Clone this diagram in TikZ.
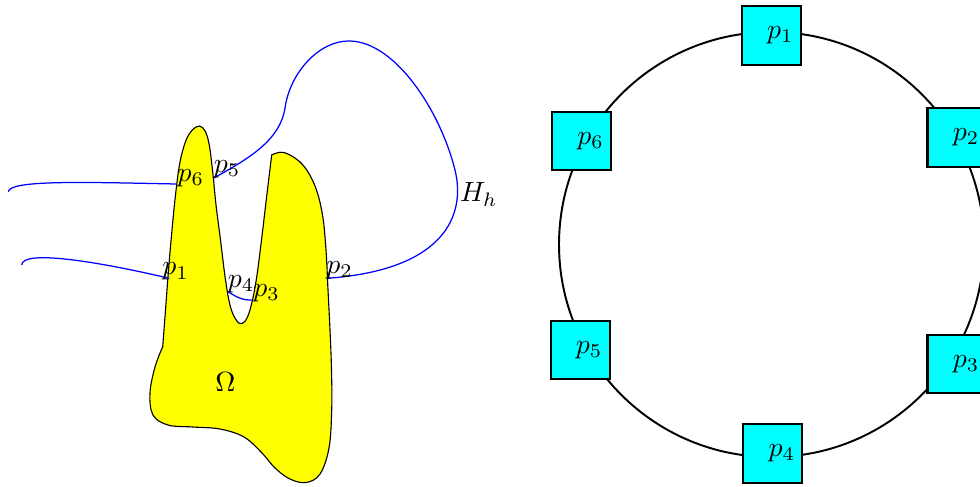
\documentclass[tikz,border=0pt]{standalone}
\usetikzlibrary{calc}
\definecolor{cyanx}{RGB}{0,255,255}
\definecolor{yellowx}{RGB}{255,255,0}
\definecolor{bluex}{RGB}{0,0,255}
\begin{document}
\begin{tikzpicture}[x=0.36pt,y=-0.36pt,
  pbox/.style={draw=black,fill=cyanx,line width=0.8pt,minimum width=21.2pt,minimum height=21pt,
    text width=16pt,align=right,inner sep=2.6pt},
  hcurve/.style={bluex,line width=0.45pt},
  lbl/.style={inner sep=0pt}]
\useasboundingbox (0,0) rectangle (980,486);
% ---------- left: domain Omega ----------
\path[draw=black,line width=0.4pt,fill=yellowx]
  plot[smooth,tension=0.6] coordinates {(271.7,155) (284,152.5) (302,164) (315,186) (322.5,215) (326,250) (328,290) (330,330) (331.5,370) (331.7,410) (329,448) (320,474) (306,482.5) (290,479) (275,468) (262,453) (244,437) (220,429) (193,427) (168,425) (153,415) (150,393) (155,367) (162.7,346.7)}
  -- plot[smooth,tension=0.6] coordinates {(162.7,346.7) (165.5,310) (168.5,270) (172,230) (175.5,195) (180,162) (187,138) (196,127) (203,128) (208.5,141) (212.5,170) (216,205) (220.5,240) (225.5,280) (230.5,307) (236.5,320.5) (242,323.5) (247.5,317) (252.5,300) (257,275) (261.5,240) (266.5,198) (271.7,155)}
  -- cycle;
\coordinate (q6) at (176.7,184);
\coordinate (q5) at (213.3,178.3);
\coordinate (q1) at (169.3,278.3);
\coordinate (q4) at (228.3,291.7);
\coordinate (q3) at (252.7,300);
\coordinate (q2) at (326.7,278.3);
\coordinate (e6) at (8.3,191.7);
\coordinate (e1) at (21.7,265);
\draw[hcurve] (q6) .. controls (80,182) and (10,180) .. (e6);
\draw[hcurve] (q1) .. controls (100,262) and (22,249) .. (e1);
\draw[hcurve] (q4) .. controls (236,297) and (243,300.5) .. (q3);
\draw[hcurve] (q5) .. controls (250,158) and (280,140) .. (285,108)
  .. controls (290,72) and (320,40) .. (350,41)
  .. controls (395,42) and (440,110) .. (455,170)
  .. controls (466,215) and (445,270) .. (q2);
\node[lbl] (l6) at (190.8,178.2) {$p_6$};
\node[lbl] (l5) at (227,169) {$p_5$};
\node[lbl] (l1) at (175.5,271.7) {$p_1$};
\node[lbl] (l4) at (241,284) {$p_4$};
\node[lbl] (l3) at (266.7,293.3) {$p_3$};
\node[lbl] (l2) at (339.5,270) {$p_2$};
\node[lbl] (lh) at (478.8,194.5) {$H_h$};
\node[lbl] (om) at (225.5,382.2) {$\Omega$};
% ---------- right: ring ----------
\coordinate (c) at (771.5,244.5);
\draw[black,line width=0.7pt] (c) circle[radius=212.5];
\node[pbox] (b1) at (771.3,35.5) {$p_1$};
\node[pbox] (b2) at (957,137.5) {$p_2$};
\node[pbox] (b3) at (957,364.2) {$p_3$};
\node[pbox] (b4) at (772.8,453.5) {$p_4$};
\node[pbox] (b5) at (580.2,349.8) {$p_5$};
\node[pbox] (b6) at (581.5,141) {$p_6$};
\end{tikzpicture}
\end{document}
